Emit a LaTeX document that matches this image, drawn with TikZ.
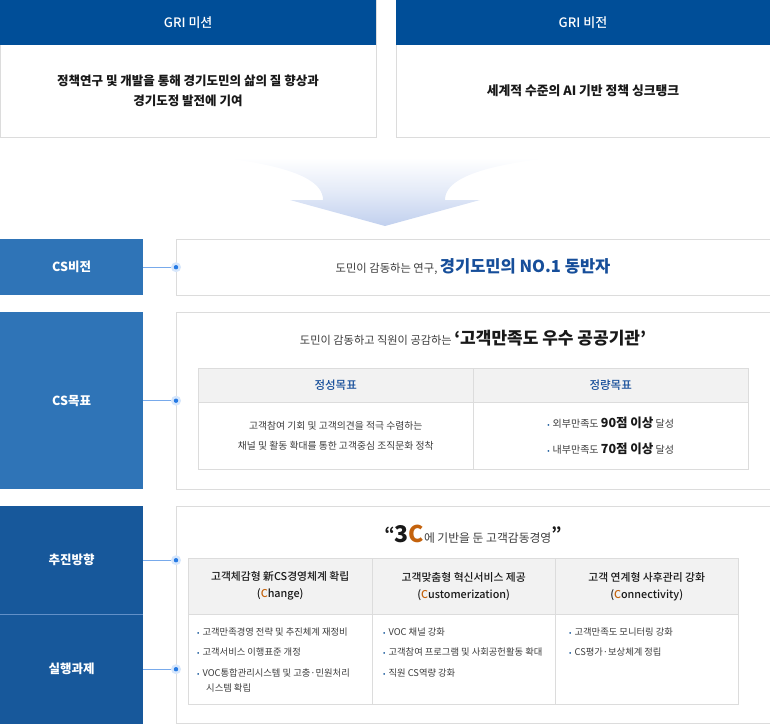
\documentclass[tikz,border=0pt]{standalone}
\usepackage{fontspec}
\setmainfont{Noto Sans CJK KR}
\newfontfamily\mediumfont{Noto Sans CJK KR Medium}
\usetikzlibrary{positioning}

\definecolor{grihead}{RGB}{0,78,152}
\definecolor{csblue}{RGB}{47,116,183}
\definecolor{csdark}{RGB}{23,88,155}
\definecolor{sepblue}{RGB}{98,144,200}
\definecolor{boxline}{RGB}{220,220,220}
\definecolor{cellgray}{RGB}{242,242,242}
\definecolor{titleblue}{RGB}{22,78,154}
\definecolor{cstrong}{RGB}{196,98,12}
\definecolor{darktext}{RGB}{25,25,25}
\definecolor{bodytext}{RGB}{60,60,60}
\definecolor{linkblue}{RGB}{120,170,235}
\definecolor{dotblue}{RGB}{38,122,228}
\definecolor{halo}{RGB}{214,230,251}
\definecolor{arrowblue}{RGB}{193,208,238}

\newcommand\fsz[2]{\fontsize{#1}{#2}\selectfont}
\newcommand\bul{{\color{csdark}\fsz{7}{7}•}\hspace{3pt}}
\newcommand\Cc[1]{\textcolor{cstrong}{#1}}

\tikzset{
  panel/.style={draw=boxline, fill=white, inner sep=0pt, anchor=north west},
  headbar/.style={fill=grihead, text=white, inner sep=0pt, anchor=north west,
    minimum height=45pt, font=\mediumfont\fsz{13}{14}},
  sidebox/.style={fill=#1, text=white, inner sep=0pt, anchor=north west,
    minimum width=143pt, font=\fsz{12.5}{14}\bfseries},
  cellhead/.style={draw=boxline, fill=cellgray, inner sep=0pt, anchor=north west},
  cellbody/.style={draw=boxline, fill=white, inner sep=0pt, anchor=north west},
  item/.style={anchor=base west, inner sep=0pt, text=bodytext, font=\fsz{9.3}{11}},
  link/.style={draw=linkblue, line width=1pt},
}

\begin{document}
\begin{tikzpicture}[x=1pt,y=-1pt]
\useasboundingbox (0,0) rectangle (770,724);

% GRI mission and vision
\node[panel, minimum width=376pt, minimum height=137pt] (missionbox) at (0,0) {};
\node[headbar, minimum width=376pt] (mission) at (0,0) {GRI 미션};
\node[align=center, font=\fsz{12.5}{20}\bfseries, text=darktext] (missiontext) at (188,91)
  {정책연구 및 개발을 통해 경기도민의 삶의 질 향상과\\경기도정 발전에 기여};
\node[panel, minimum width=373.5pt, minimum height=137pt] (visionbox) at (396,0) {};
\node[headbar, minimum width=373.5pt] (vision) at (396,0) {GRI 비전};
\node[font=\fsz{12.8}{14}\bfseries, text=darktext] (visiontext) at (583,91)
  {세계적 수준의 AI 기반 정책 싱크탱크};

% arrow
\shade[top color=white, bottom color=arrowblue, middle color=arrowblue!45]
  (223,158) -- (550,158) .. controls (462,168) and (445,185) .. (445,200)
  -- (480,200) -- (385,226) -- (290,200) -- (323,200)
  .. controls (323,185) and (306,168) .. (223,158) -- cycle;

% CS vision
\node[sidebox=csblue, minimum height=56pt] (csvision) at (0,239) {CS비전};
\node[panel, minimum width=593.5pt, minimum height=56pt] (csvisionbox) at (176,239) {};
\node[font=\fsz{11.3}{14}, text=bodytext] (csvisiontext) at (473,267)
  {도민이 감동하는 연구, {\fsz{16.5}{18}\bfseries\color{titleblue}경기도민의 NO.1 동반자}};

% CS goal
\node[sidebox=csblue, minimum height=177pt] (csgoal) at (0,312) {CS목표};
\node[panel, minimum width=593.5pt, minimum height=177pt] (csgoalbox) at (176,312) {};
\node[font=\fsz{11.2}{14}, text=bodytext] (csgoaltext) at (473,338)
  {도민이 감동하고 직원이 공감하는 {\fsz{17}{18}\bfseries\color{darktext}‘고객만족도 우수 공공기관’}};
\node[cellhead, minimum width=275pt, minimum height=34pt, text=titleblue, font=\mediumfont\fsz{11.5}{14}] (quali) at (198,368) {정성목표};
\node[cellhead, minimum width=275pt, minimum height=34pt, text=titleblue, font=\mediumfont\fsz{11.5}{14}] (quanti) at (473,368) {정량목표};
\node[cellbody, minimum width=275pt, minimum height=67pt, align=center, font=\fsz{9.8}{20}, text=bodytext] (qualibody) at (198,402)
  {고객참여 기회 및 고객의견을 적극 수렴하는\\채널 및 활동 확대를 통한 고객중심 조직문화 정착};
\node[cellbody, minimum width=275pt, minimum height=67pt, align=left, font=\fsz{10}{26}, text=bodytext] (quantibody) at (473,402)
  {\bul 외부만족도 {\fsz{12.5}{14}\bfseries\color{darktext}90점 이상} 달성\\
   \bul 내부만족도 {\fsz{12.5}{14}\bfseries\color{darktext}70점 이상} 달성};

% direction and tasks
\node[sidebox=csdark, minimum height=108pt] (cspush) at (0,506) {추진방향};
\node[sidebox=csdark, minimum height=110pt] (cstask) at (0,614) {실행과제};
\draw[sepblue, line width=1.3pt] (cspush.south west) -- (cspush.south east);
\node[panel, minimum width=593.5pt, minimum height=217pt] (cspushbox) at (176,506) {};
\node[font=\fsz{11.8}{14}, text=bodytext] (threec) at (473,534)
  {\raisebox{3pt}{\fsz{16}{16}\bfseries\color{darktext}“}{\fsz{23}{24}\bfseries\color{darktext}3\Cc{C}}에 기반을 둔 고객감동경영\raisebox{3pt}{\fsz{16}{16}\bfseries\color{darktext}”}};

\node[cellhead, minimum width=184pt, minimum height=56pt, align=center, font=\mediumfont\fsz{10.8}{17}, text=darktext] (change) at (188,558)
  {고객체감형 新CS경영체계 확립\\(\Cc{C}hange)};
\node[cellhead, minimum width=183pt, minimum height=56pt, align=center, font=\mediumfont\fsz{10.8}{17}, text=darktext] (custom) at (372,558)
  {고객맞춤형 혁신서비스 제공\\(\Cc{C}ustomerization)};
\node[cellhead, minimum width=183pt, minimum height=56pt, align=center, font=\mediumfont\fsz{10.8}{17}, text=darktext] (connect) at (555,558)
  {고객 연계형 사후관리 강화\\(\Cc{C}onnectivity)};
\node[cellbody, minimum width=184pt, minimum height=90pt] (changebody) at (188,614) {};
\node[cellbody, minimum width=183pt, minimum height=90pt] (custombody) at (372,614) {};
\node[cellbody, minimum width=183pt, minimum height=90pt] (connectbody) at (555,614) {};

\node[item] (change1) at (197,635.5) {\bul 고객만족경영 전략 및 추진체계 재정비};
\node[item] (change2) at (197,655.5) {\bul 고객서비스 이행표준 개정};
\node[item] (change3) at (197,676.5) {\bul VOC통합관리시스템 및 고충·민원처리};
\node[item] (change4) at (206,691.5) {시스템 확립};
\node[item] (custom1) at (383,635.5) {\bul VOC 채널 강화};
\node[item] (custom2) at (383,655.5) {\bul 고객참여 프로그램 및 사회공헌활동 확대};
\node[item] (custom3) at (383,676.5) {\bul 직원 CS역량 강화};
\node[item] (connect1) at (569,635.5) {\bul 고객만족도 모니터링 강화};
\node[item] (connect2) at (569,655.5) {\bul CS평가·보상체계 정립};

% connectors
\foreach \side/\panel in {csvision/csvisionbox, csgoal/csgoalbox, cspush/cspushbox, cstask/cspushbox} {
  \coordinate (\side-end) at (\side.east -| \panel.west);
  \draw[link] (\side.east) -- (\side-end);
  \fill[halo] (\side-end) circle (5pt);
  \fill[dotblue] (\side-end) circle (2.2pt);
}
\end{tikzpicture}
\end{document}
